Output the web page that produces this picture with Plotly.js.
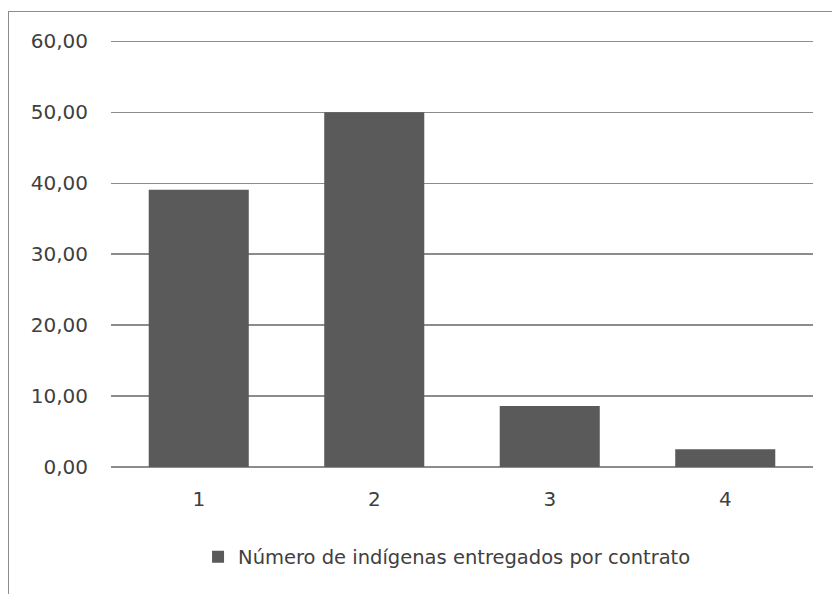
<!DOCTYPE html>
<html>
<head>
<meta charset="utf-8">
<script src="https://cdn.plot.ly/plotly-3.0.1.min.js"></script>
<style>
html,body{margin:0;padding:0;background:#fff;width:832px;height:594px;overflow:hidden;}
#frame{position:absolute;left:8px;top:11px;width:840px;height:600px;border-left:1.5px solid #8c8c8c;border-top:1.5px solid #8c8c8c;background:#fff;}
#chart{position:absolute;left:0;top:0;width:824px;height:583px;}
</style>
</head>
<body>
<div id="frame"><div id="chart"></div></div>
<script>
var categories = ["1", "2", "3", "4"];
var seriesName = "Número de indígenas entregados por contrato";
var values = [39.1, 50.0, 8.6, 2.5];
var yTickVals = [0, 10, 20, 30, 40, 50, 60];
var yTickText = ["0,00", "10,00", "20,00", "30,00", "40,00", "50,00", "60,00"];

var font = {family: "DejaVu Sans, Open Sans, sans-serif", size: 20, color: "#404040"};

Plotly.newPlot("chart", [{
  type: "bar",
  x: categories,
  y: values,
  name: seriesName,
  marker: {color: "#5a5a5a"},
  showlegend: true
}], {
  width: 824, height: 583,
  margin: {l: 102, r: 20, t: 28, b: 128},
  paper_bgcolor: "#fff",
  plot_bgcolor: "#fff",
  font: font,
  bargap: 0.43,
  xaxis: {
    type: "category",
    showgrid: false,
    zeroline: false,
    showline: false,
    ticks: "",
    ticklabelstandoff: 18,
    tickfont: font
  },
  yaxis: {
    range: [0, 60.2],
    tickvals: yTickVals,
    ticktext: yTickText,
    showgrid: true,
    gridcolor: "#8c8c8c",
    gridwidth: 1.5,
    zeroline: true,
    zerolinecolor: "#8c8c8c",
    zerolinewidth: 1.5,
    showline: false,
    ticks: "",
    ticklabelstandoff: 22,
    tickfont: font
  },
  showlegend: true,
  legend: {
    orientation: "h",
    x: 0.124, xanchor: "left",
    y: -0.211, yanchor: "middle",
    font: {family: font.family, size: 19.5, color: "#404040"},
    itemwidth: 30
  }
}, {displayModeBar: false, staticPlot: true});
</script>
</body>
</html>
